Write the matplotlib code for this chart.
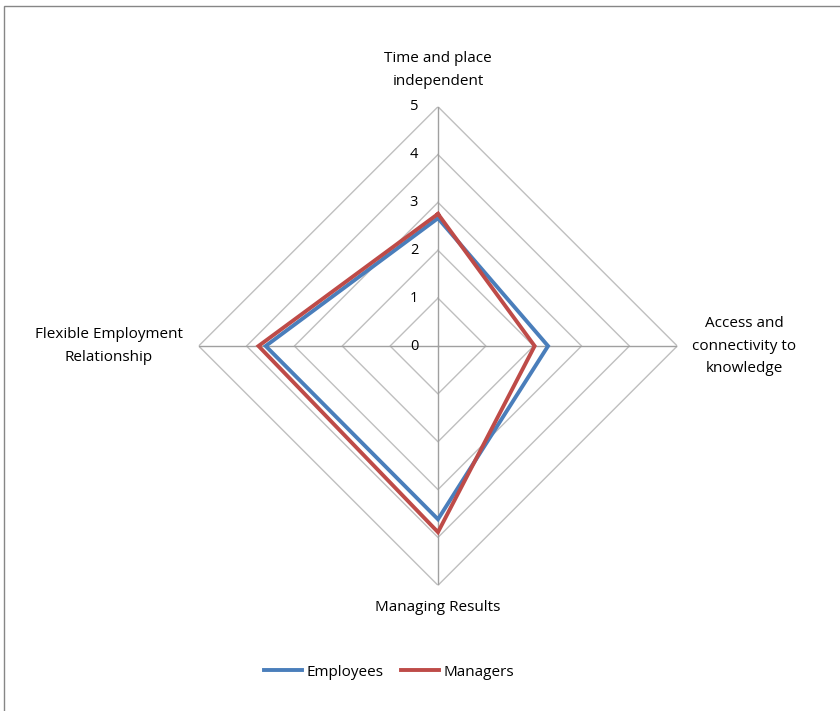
import numpy as np
import matplotlib
matplotlib.use("Agg")
import matplotlib.pyplot as plt
from matplotlib.patches import Rectangle

categories = ["Time and place\nindependent", "Access and\nconnectivity to\nknowledge",
              "Managing Results", "Flexible Employment\nRelationship"]
employees = [2.67, 2.3, 3.62, 3.6]
managers = [2.76, 2.02, 3.89, 3.75]
levels = [1, 2, 3, 4, 5]
tick_labels = ["0", "1", "2", "3", "4", "5"]

plt.rcParams["font.family"] = ["Open Sans", "DejaVu Sans"]

fig = plt.figure(figsize=(8.4, 7.11), dpi=100)
fig.patches.append(Rectangle((4 / 840, -0.1), 1.2, 1.1 - 6 / 711, transform=fig.transFigure,
                             fill=False, edgecolor="#868686", linewidth=1.0))

ax = fig.add_axes([0.2365, 0.1768, 0.5698, 0.6731], projection="polar")
ax.set_theta_zero_location("N")
ax.set_theta_direction(-1)
ax.set_ylim(0, 5)
ax.grid(False)
ax.spines["polar"].set_visible(False)
ax.set_xticks([])
ax.set_yticks([])
ax.patch.set_alpha(0)

angles = np.linspace(0, 2 * np.pi, len(categories), endpoint=False)
closed = np.append(angles, angles[0])

for lv in levels:
    ax.plot(closed, [lv] * len(closed), color="#BFBFBF", linewidth=1.0, zorder=1)
for a in angles:
    ax.plot([a, a], [0, levels[-1]], color="#A0A0A0", linewidth=1.0, zorder=1)

ax.plot(closed, employees + employees[:1], color="#4A7EBB", linewidth=2.8,
        label="Employees", zorder=3, solid_joinstyle="miter")
ax.plot(closed, managers + managers[:1], color="#BE4B48", linewidth=2.8,
        label="Managers", zorder=4, solid_joinstyle="miter")

for i, t in enumerate(tick_labels):
    ax.annotate(t, (0, i), xytext=(-24, 0), textcoords="offset pixels",
                ha="center", va="center", fontsize=10.5, color="#000000")

label_offsets = [(0, 37), (67, 0), (0, -22), (-90, 0)]
for a, cat, off in zip(angles, categories, label_offsets):
    ax.annotate(cat, (a, levels[-1]), xytext=off, textcoords="offset pixels",
                ha="center", va="center", fontsize=11, linespacing=1.7,
                annotation_clip=False)

fig.legend(loc="center", bbox_to_anchor=(389 / 840, 1 - 672 / 711), ncol=2,
           frameon=False, fontsize=11, handlelength=2.5, columnspacing=1.1,
           handletextpad=0.3)

fig.savefig("out.png", dpi=100, facecolor="white")
